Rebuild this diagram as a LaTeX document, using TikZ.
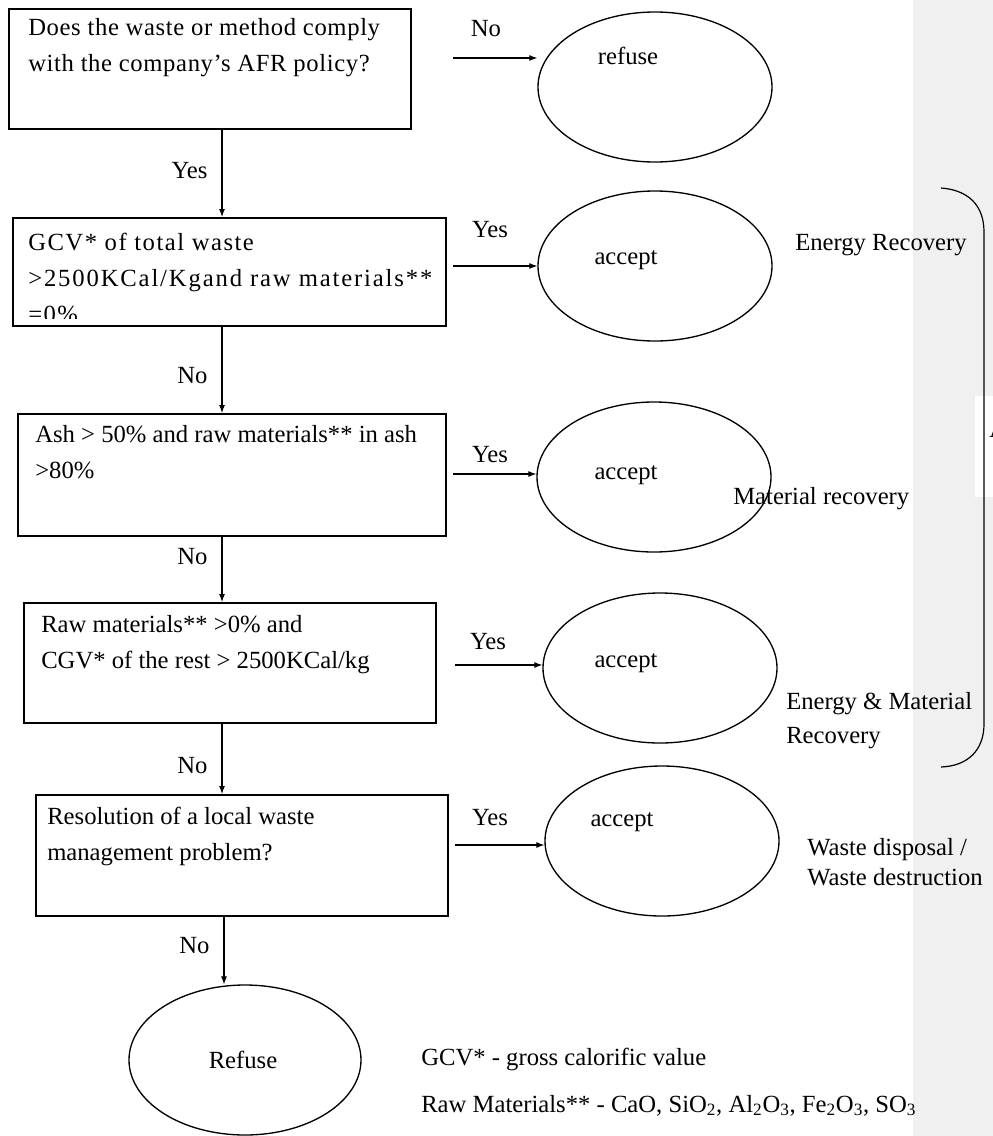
\documentclass[tikz,border=0pt]{standalone}
\usepackage{fontspec}
\setmainfont{Liberation Serif}
\usetikzlibrary{shapes.geometric,arrows.meta}
\newlength\pxu
\setlength\pxu{0.75pt}
\newcommand{\qlines}[1]{\parbox[t]{600\pxu}{#1}}
\definecolor{sidegrey}{RGB}{240,240,240}
\tikzset{
  qbox/.style={draw, line width=1.2pt, rectangle, anchor=north west, inner sep=0},
  qtext/.style={anchor=base west, inner sep=0},
  oval/.style={draw, ellipse, line width=1pt, inner sep=0, minimum width=234\pxu, minimum height=150\pxu},
  arr/.style={-{Latex[length=6pt,width=4.5pt]}, line width=0.8pt},
  lbl/.style={inner sep=0},
}
\begin{document}
\begin{tikzpicture}[x=0.75pt,y=-0.75pt,font=\fontsize{18.5}{27}\selectfont]
                \useasboundingbox (0,0) rectangle (993,1136);
                \fill[sidegrey] (913,0) rectangle (993,1136);
                \fill[white] (975,396) rectangle (993,497);
                \node[qtext] (cmt) at (989,437) {A};

                \node[qbox, minimum width=402\pxu, minimum height=120\pxu] (q1) at (8,8) {};
                \node[qbox, minimum width=433\pxu, minimum height=108\pxu] (q2) at (12,217) {};
                \node[qbox, minimum width=428\pxu, minimum height=122\pxu] (q3) at (17,413) {};
                \node[qbox, minimum width=412\pxu, minimum height=120\pxu] (q4) at (23,602) {};
                \node[qbox, minimum width=412\pxu, minimum height=121\pxu] (q5) at (35,794) {};

                \node[qtext] (t1) at (28,35) {\qlines{\addfontfeatures{LetterSpace=2.5}Does the waste or method comply\\with the company's AFR policy?}};
                \begin{scope}
                \clip (12,217) rectangle (445,318);
                \node[qtext] (t2) at (28,250) {\qlines{\addfontfeatures{LetterSpace=6}GCV* of total waste\\{\addfontfeatures{LetterSpace=7.5}>2500KCal/Kgand raw materials**}\\=0\%}};
                \end{scope}
                \node[qtext] (t3) at (35,442) {\qlines{Ash > 50\% and raw materials** in ash\\>80\%}};
                \node[qtext] (t4) at (41,632) {\qlines{Raw materials** >0\% and\\CGV* of the rest > 2500KCal/kg}};
                \node[qtext] (t5) at (47,824) {\qlines{Resolution of a local waste\\management problem?}};

                \node[oval] (refuse) at (655,87) {};
                \node[oval] (acc1) at (655,266) {};
                \node[oval] (acc2) at (654,477) {};
                \node[oval] (acc3) at (660,668) {};
                \node[oval] (acc4) at (662,841) {};
                \node[oval, minimum width=232\pxu] (final) at (245,1060) {};
                \node[lbl] (refuset) at (628,56) {refuse};
                \node[lbl] (acc1t) at (626,260) {accept};
                \node[lbl] (acc2t) at (626,475) {accept};
                \node[lbl] (acc3t) at (626,663) {accept};
                \node[lbl] (acc4t) at (622,822) {accept};
                \node[lbl] (finalt) at (243,1060) {Refuse};

                \coordinate (v1) at (222,0);
                \coordinate (v2) at (224,0);
                \draw[arr] (q1.south -| v1) -- node[lbl, pos=.47, left=14\pxu]{Yes} (q2.north -| v1);
                \draw[arr] (q2.south -| v1) -- node[lbl, pos=.57, left=14\pxu]{No} (q3.north -| v1);
                \draw[arr] (q3.south -| v1) -- node[lbl, pos=.30, left=14\pxu]{No} (q4.north -| v1);
                \draw[arr] (q4.south -| v1) -- node[lbl, pos=.60, left=14\pxu]{No} (q5.north -| v1);
                \draw[arr] (q5.south -| v2) -- node[lbl, pos=.43, left=14\pxu]{No} (final.north -| v2);

                \coordinate (h1) at (453,58);
                \coordinate (h2) at (453,266);
                \coordinate (h3) at (453,474);
                \coordinate (h4) at (455,665);
                \coordinate (h5) at (455,845);
                \draw[arr] (h1) -- (h1 -| refuse.west);
                \draw[arr] (h2) -- (h2 -| acc1.west);
                \draw[arr] (h3) -- (h3 -| acc2.west);
                \draw[arr] (h4) -- (h4 -| acc3.west);
                \draw[arr] (h5) -- (h5 -| acc4.west);
                \node[lbl] (no1) at (486,29) {No};
                \node[lbl] (yes1) at (490,230) {Yes};
                \node[lbl] (yes2) at (490,455) {Yes};
                \node[lbl] (yes3) at (488,642) {Yes};
                \node[lbl] (yes4) at (490,818) {Yes};

                \node[qtext] (energy) at (795,250) {Energy Recovery};
                \node[qtext] (material) at (733,504) {Material recovery};
                \node[qtext] (both) at (786,709) {\qlines{Energy \& Material\\[-2\pxu]Recovery}};
                \node[qtext] (disposal) at (807,855) {\qlines{Waste disposal /\\[-6\pxu]Waste destruction}};
                \draw[line width=0.9pt] (941,188) .. controls (968,190) and (984,205) .. (984,232) -- (984,724) .. controls (984,750) and (968,766) .. (941,767);

                \node[qtext] (gcv) at (421,1065) {GCV* - gross calorific value};
                \node[qtext] (rawm) at (421,1112) {Raw Materials** - CaO, SiO\textsubscript{2}, Al\textsubscript{2}O\textsubscript{3}, Fe\textsubscript{2}O\textsubscript{3}, SO\textsubscript{3}};
            \end{tikzpicture}
\end{document}
